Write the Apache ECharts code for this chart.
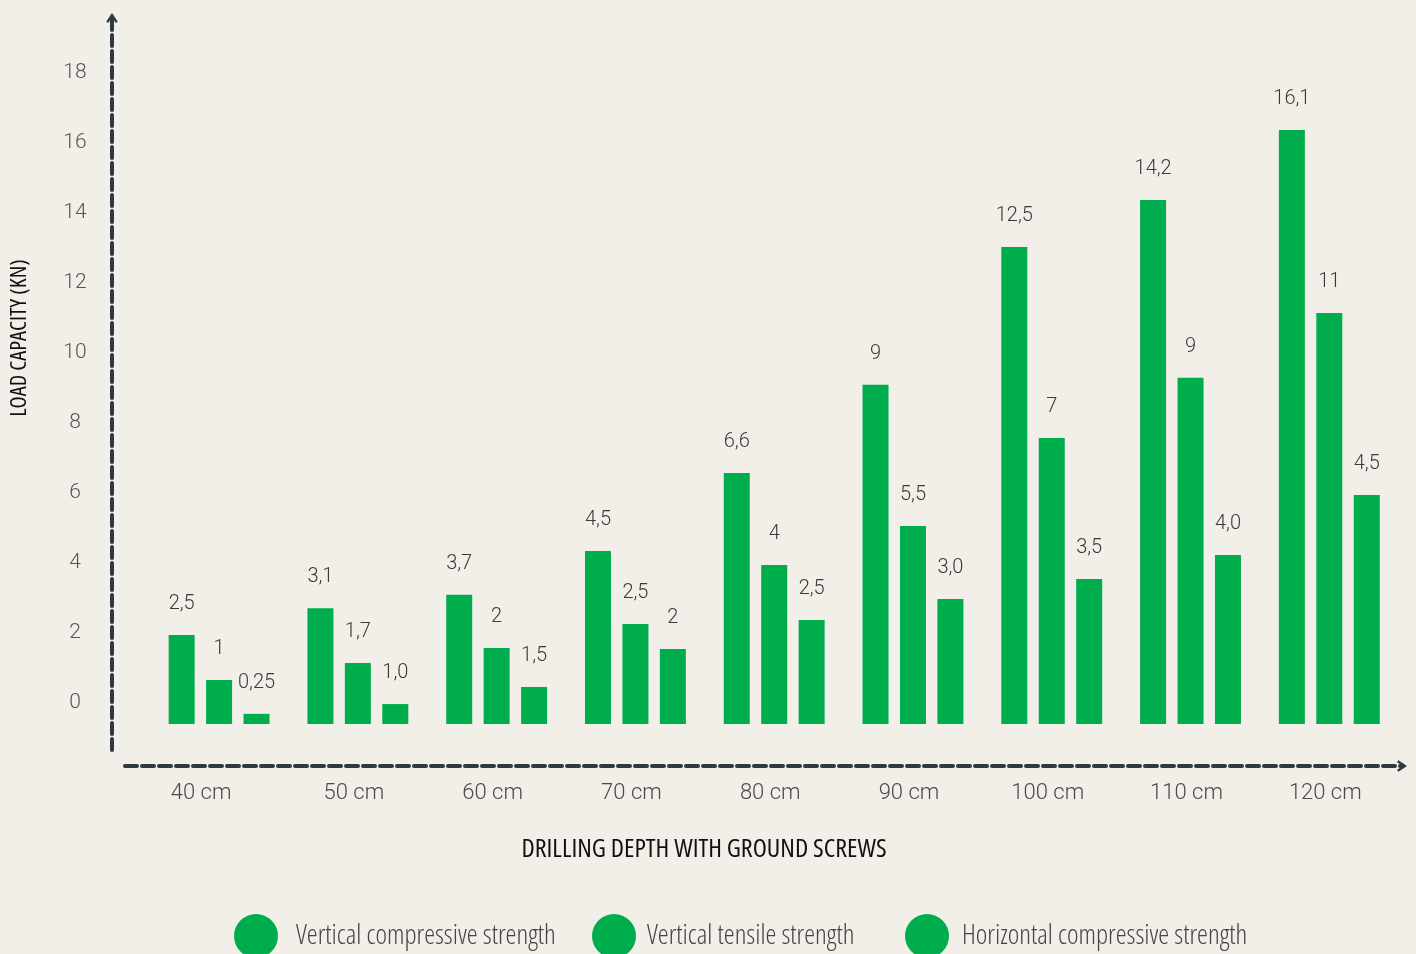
<!DOCTYPE html>
<html><head><meta charset="utf-8">
<script src="https://cdn.jsdelivr.net/npm/echarts@6/dist/echarts.min.js"></script>
<style>html,body{margin:0;padding:0;background:#f2efe9;}#c{width:1416px;height:954px;}</style>
</head><body><div id="c"></div>
<script>
// ---- data ----
const categories = ['40 cm', '50 cm', '60 cm', '70 cm', '80 cm', '90 cm', '100 cm', '110 cm', '120 cm'];
const seriesNames = ['Vertical compressive strength', 'Vertical tensile strength', 'Horizontal compressive strength'];
// bar heights as drawn (kN)
const verticalCompressive = [2.54, 3.31, 3.69, 4.94, 7.17, 9.69, 13.63, 14.97, 16.97];
const verticalTensile = [1.26, 1.74, 2.17, 2.86, 4.54, 5.66, 8.17, 9.89, 11.74];
const horizontalCompressive = [0.29, 0.57, 1.06, 2.14, 2.97, 3.57, 4.14, 4.83, 6.54];
// value labels as printed
const verticalCompressiveLabels = ['2,5', '3,1', '3,7', '4,5', '6,6', '9', '12,5', '14,2', '16,1'];
const verticalTensileLabels = ['1', '1,7', '2', '2,5', '4', '5,5', '7', '9', '11'];
const horizontalCompressiveLabels = ['0,25', '1,0', '1,5', '2', '2,5', '3,0', '3,5', '4,0', '4,5'];
const yTickValues = [0, 2, 4, 6, 8, 10, 12, 14, 16, 18];

// ---- style ----
const GREEN = '#00ad4c';
const AXIS = '#2e3940';
const BG = '#f2efe9';
const NUM_FONT = 'Roboto';
const COND_FONT = "'Open Sans'";
const CHEVRON = 'path://M0,9 L6,0 L12,9 L10,10.5 L6,4.2 L2,10.5 Z';

const chart = echarts.init(document.getElementById('c'));

function barSeries(name, data, labels) {
  return {
    type: 'bar', name: name, data: data,
    xAxisIndex: 0, yAxisIndex: 0,
    barWidth: 26, barGap: '44%',
    itemStyle: { color: GREEN },
    label: {
      show: true, position: 'top', distance: 21,
      formatter: p => labels[p.dataIndex],
      fontFamily: NUM_FONT, fontWeight: 300, fontSize: 20, color: '#3a3a3a'
    },
    emphasis: { disabled: true },
    silent: true
  };
}

function legendFor(i, left, pad) {
  return {
    data: [seriesNames[i]], left: left, top: 914, padding: 0,
    icon: 'circle', itemWidth: 44, itemHeight: 44,
    textStyle: { fontFamily: COND_FONT, fontWeight: '300 condensed', fontSize: 27.5, color: '#444', padding: [2, 0, 0, pad] },
    selectedMode: false
  };
}

const xLabelFont = { fontFamily: NUM_FONT, fontWeight: 300, fontSize: 22, color: '#4a4a4a' };

chart.setOption({
  backgroundColor: BG,
  animation: false,
  grid: [
    { left: 149.7, right: 17.3, top: 18, bottom: 204 },
    { left: 125, right: 14, top: 18, bottom: 188 }
  ],
  xAxis: [
    {
      type: 'category', gridIndex: 0, data: categories,
      axisLine: { show: false }, axisTick: { show: false },
      axisLabel: Object.assign({
        interval: 0, hideOverlap: false,
        margin: 32, padding: [0, 8, 0, 0],
        formatter: (v, i) => i === 0 ? '{first|' + v + '}' : v,
        rich: { first: Object.assign({ padding: [0, 28, 0, 0] }, xLabelFont) }
      }, xLabelFont)
    },
    {
      type: 'value', gridIndex: 1, min: 0, max: 1,
      axisLine: { show: true, symbol: ['none', CHEVRON], symbolSize: [16, 10],
        lineStyle: { color: AXIS, width: 4, type: [12, 5] } },
      axisTick: { show: false }, axisLabel: { show: false }, splitLine: { show: false }
    }
  ],
  yAxis: [
    {
      type: 'value', gridIndex: 0, min: -26 / 35, max: 706 / 35,
      offset: 37.7,
      axisLine: { show: true, symbol: ['none', CHEVRON], symbolSize: [16, 10],
        lineStyle: { color: AXIS, width: 4, type: [11, 5] } },
      axisTick: { show: false },
      splitLine: { show: false },
      axisLabel: {
        customValues: yTickValues, align: 'center', margin: 37,
        verticalAlign: 'bottom', lineHeight: 43,
        fontFamily: NUM_FONT, fontWeight: 300, fontSize: 21, color: '#555'
      }
    },
    { type: 'value', gridIndex: 1, show: false }
  ],
  legend: [legendFor(0, 234, 13), legendFor(1, 592, 6), legendFor(2, 905, 8)],
  graphic: [
    { type: 'text', x: 704, y: 850, silent: true,
      style: { text: 'DRILLING DEPTH WITH GROUND SCREWS', fontFamily: COND_FONT, fontWeight: '500 condensed', fontSize: 26,
        fill: '#111', align: 'center', verticalAlign: 'middle' } },
    { type: 'text', x: 20, y: 338, rotation: Math.PI / 2, silent: true,
      style: { text: 'LOAD CAPACITY (KN)', fontFamily: COND_FONT, fontWeight: '500 condensed', fontSize: 22.5,
        fill: '#111', align: 'center', verticalAlign: 'middle' } }
  ],
  series: [
    barSeries(seriesNames[0], verticalCompressive, verticalCompressiveLabels),
    barSeries(seriesNames[1], verticalTensile, verticalTensileLabels),
    barSeries(seriesNames[2], horizontalCompressive, horizontalCompressiveLabels)
  ]
});
</script></body></html>
